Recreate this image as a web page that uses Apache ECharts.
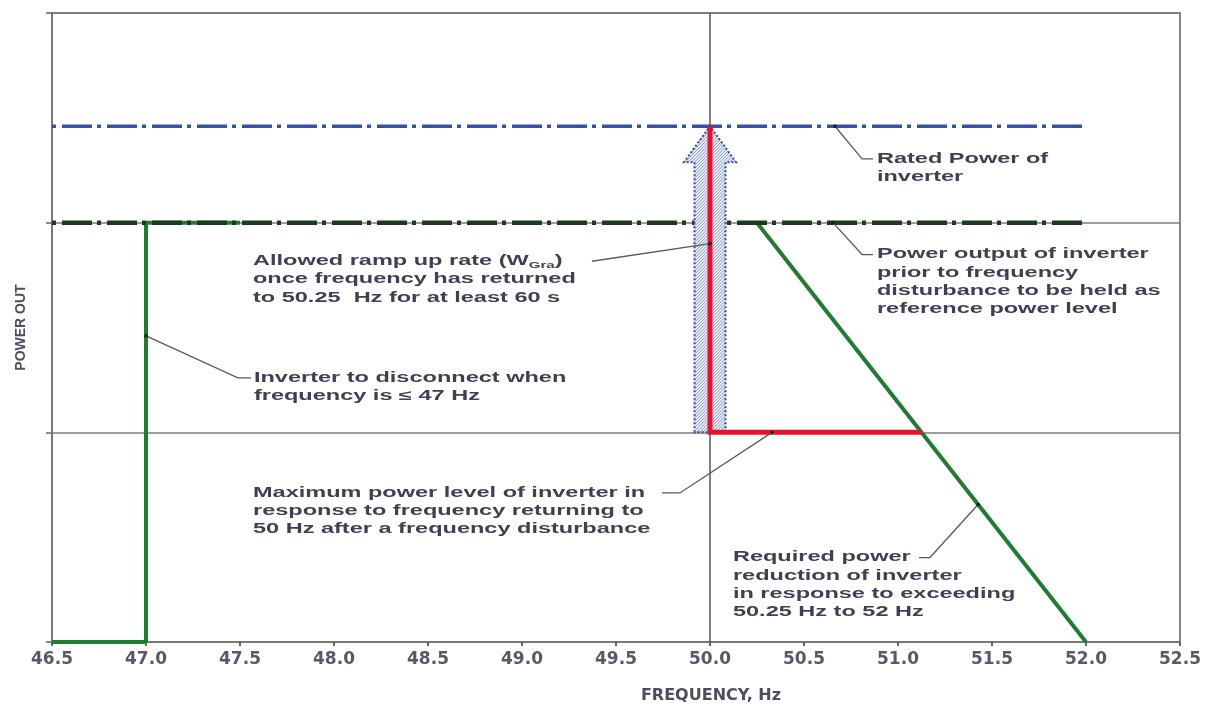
<!DOCTYPE html>
<html>
<head>
<meta charset="utf-8">
<script src="https://cdn.jsdelivr.net/npm/echarts@6/dist/echarts.min.js"></script>
<style>
html,body{margin:0;padding:0;background:#ffffff;}
#chart{width:1212px;height:709px;}
</style>
</head>
<body>
<div id="chart"></div>
<script>
// ---------- data ----------
const xTickLabels = ['46.5','47.0','47.5','48.0','48.5','49.0','49.5','50.0','50.5','51.0','51.5','52.0','52.5'];
const disconnectCurve = [[46.5, 0], [47.0, 0], [47.0, 1.0], [47.5, 1.0]];
const reductionCurve = [[50.25, 1.0], [52.0, 0]];
const ratedPower = [[46.5, 1.23], [52.0, 1.23]];
const referencePower = [[46.5, 1.0], [52.0, 1.0]];
const maxPowerPath = [[50.0, 1.23], [50.0, 0.5], [51.125, 0.5]];
const rampArrow = [[50.0, 0.5, 1.23]]; // x, from, to
const nominalFrequency = 50.0;

// annotations: anchor on curve, elbow, end of leader, text origin (all in data units)
const notes = [
  { lines: ['Rated Power of', 'inverter'],
    anchor: [50.665, 1.23], elbow: [50.809, 1.152], end: [50.867, 1.152], text: [50.888, 1.152] },
  { lines: ['Power output of inverter', 'prior to frequency', 'disturbance to be held as', 'reference power level'],
    anchor: [50.654, 1.0], elbow: [50.809, 0.924], end: [50.867, 0.924], text: [50.888, 0.924] },
  { lines: ['Allowed ramp up rate (W{sub|Gra})', 'once frequency has returned', 'to 50.25  Hz for at least 60 s'],
    anchor: [50.0, 0.950], elbow: [49.372, 0.908], end: [49.372, 0.908], text: [47.569, 0.908] },
  { lines: ['Inverter to disconnect when', 'frequency is \u2264 47 Hz'],
    anchor: [47.0, 0.730], elbow: [47.489, 0.630], end: [47.559, 0.630], text: [47.574, 0.630] },
  { lines: ['Maximum power level of inverter in', 'response to frequency returning to', '50 Hz after a frequency disturbance'],
    anchor: [50.330, 0.5], elbow: [49.840, 0.3555], end: [49.745, 0.3555], text: [47.569, 0.3555] },
  { lines: ['Required power', 'reduction of inverter', 'in response to exceeding', '50.25 Hz to 52 Hz'],
    anchor: [51.426, 0.328], elbow: [51.170, 0.2014], end: [51.112, 0.2014], text: [50.122, 0.2014] }
];

// ---------- helpers ----------
function clipToConvex(p, q, poly) {
  let t0 = 0, t1 = 1;
  const d = [q[0] - p[0], q[1] - p[1]];
  let cx = 0, cy = 0;
  poly.forEach(v => { cx += v[0]; cy += v[1]; });
  cx /= poly.length; cy /= poly.length;
  for (let i = 0; i < poly.length; i++) {
    const a = poly[i], b = poly[(i + 1) % poly.length];
    let n = [-(b[1] - a[1]), b[0] - a[0]];
    if (n[0] * (cx - a[0]) + n[1] * (cy - a[1]) < 0) n = [-n[0], -n[1]];
    const num = n[0] * (p[0] - a[0]) + n[1] * (p[1] - a[1]);
    const den = n[0] * d[0] + n[1] * d[1];
    if (Math.abs(den) < 1e-9) { if (num < 0) return null; continue; }
    const t = -num / den;
    if (den > 0) t0 = Math.max(t0, t); else t1 = Math.min(t1, t);
    if (t0 > t1) return null;
  }
  return [[p[0] + d[0] * t0, p[1] + d[1] * t0], [p[0] + d[0] * t1, p[1] + d[1] * t1]];
}

const TEXT_COLOR = '#404055';
const TEXT_FONT = 'bold 14px "Liberation Sans", Arial, sans-serif';
const TEXT_SCALE = 1.68;
const LINE_GAP = 18.3;

const chart = echarts.init(document.getElementById('chart'), null, { renderer: 'canvas' });

const dashDot = [4, 6, 30, 5];

const option = {
  animation: false,
  backgroundColor: '#ffffff',
  grid: { left: 52, right: 32, top: 13, bottom: 64, show: true, borderColor: '#858585', borderWidth: 2, containLabel: false },
  xAxis: {
    type: 'value', min: 46.5, max: 52.5, interval: 0.5,
    name: 'FREQUENCY, Hz', nameLocation: 'middle', nameGap: 46,
    nameTextStyle: { fontFamily: 'DejaVu Sans', fontWeight: 'bold', fontSize: 16, color: '#4d4d60', padding: [0, 0, 0, 190] },
    axisLine: { show: true, lineStyle: { color: '#777777', width: 2 } },
    axisTick: { show: true, length: 4, lineStyle: { color: '#666666', width: 2 } },
    axisLabel: {
      margin: 9, fontFamily: 'DejaVu Sans', fontWeight: 'bold', fontSize: 17, color: '#58586a',
      formatter: (v) => { const i = Math.round((v - 46.5) / 0.5); return xTickLabels[i] || ''; }
    },
    splitLine: { show: false }
  },
  yAxis: {
    type: 'value', min: 0, max: 1.5, interval: 0.5,
    name: 'POWER OUT', nameLocation: 'middle', nameGap: 24, nameRotate: 90,
    nameTextStyle: { fontFamily: 'Liberation Sans', fontWeight: 'bold', fontSize: 14, color: '#4d4d60' },
    axisLine: { show: true, lineStyle: { color: '#777777', width: 2 } },
    axisTick: { show: true, length: 6, lineStyle: { color: '#666666', width: 1.5 } },
    axisLabel: { show: false },
    splitLine: { show: true, lineStyle: { color: '#7d7d7d', width: 1.5 } }
  },
  series: [
    {
      name: 'nominal', type: 'line', data: [], z: 1,
      markLine: {
        silent: true, symbol: 'none', label: { show: false },
        lineStyle: { color: '#555555', width: 1.5, type: 'solid' },
        data: [{ xAxis: nominalFrequency }]
      }
    },
    {
      name: 'disconnect', type: 'line', data: disconnectCurve, showSymbol: false, z: 2,
      lineStyle: { color: '#1f7d32', width: 4 }
    },
    {
      name: 'reduction', type: 'line', data: reductionCurve, showSymbol: false, z: 2,
      lineStyle: { color: '#1f7d32', width: 4 }
    },
    {
      name: 'reference', type: 'line', data: referencePower, showSymbol: false, z: 3,
      lineStyle: { color: '#1d3a1f', width: 4.5, type: dashDot }
    },
    {
      name: 'rated', type: 'line', data: ratedPower, showSymbol: false, z: 3,
      lineStyle: { color: '#3552a8', width: 3.5, type: dashDot }
    },
    {
      name: 'arrow', type: 'custom', data: rampArrow, z: 4, clip: false,
      renderItem: function (params, api) {
        const base = api.coord([api.value(0), api.value(1)]);
        const tip = api.coord([api.value(0), api.value(2)]);
        const hw = 15.5, hh = 26, hl = 36;
        const cx = tip[0], yb = base[1], yt = tip[1], yh = yt + hl;
        const outline = [[cx - hw, yb], [cx - hw, yh], [cx - hh, yh], [cx, yt], [cx + hh, yh], [cx + hw, yh], [cx + hw, yb]];
        const rect = [[cx - hw, yb], [cx - hw, yh], [cx + hw, yh], [cx + hw, yb]];
        const tri = [[cx - hh, yh], [cx, yt], [cx + hh, yh]];
        const children = [{ type: 'polygon', shape: { points: outline }, style: { fill: '#eef1fa', stroke: null } }];
        const X0 = cx - hh - 4, X1 = cx + hh + 4;
        const sMin = X0 + yt - 4, sMax = X1 + yb + 4;
        for (let s = sMin; s <= sMax; s += 3.2) {
          const p = [X0, s - X0], q = [X1, s - X1];
          [rect, tri].forEach(poly => {
            const seg = clipToConvex(p, q, poly);
            if (seg) children.push({ type: 'line', shape: { x1: seg[0][0], y1: seg[0][1], x2: seg[1][0], y2: seg[1][1] }, style: { stroke: '#8193cc', lineWidth: 1 } });
          });
        }
        children.push({ type: 'polygon', shape: { points: outline }, style: { fill: null, stroke: '#2f4aa3', lineWidth: 2, lineDash: [2, 2] } });
        return { type: 'group', children: children };
      }
    },
    {
      name: 'maxPower', type: 'line', data: maxPowerPath, showSymbol: false, z: 5,
      lineStyle: { color: '#e8102a', width: 5, join: 'miter' }
    },
    {
      name: 'notes', type: 'custom', z: 6, clip: false,
      data: notes.map((n, i) => [n.anchor[0], n.anchor[1], i]),
      renderItem: function (params, api) {
        const n = notes[params.dataIndex];
        const a = api.coord(n.anchor), e = api.coord(n.elbow), f = api.coord(n.end), t = api.coord(n.text);
        const children = [
          { type: 'polyline', shape: { points: [a, e, f] }, style: { stroke: '#5a5a5a', lineWidth: 1.3, fill: null } },
          { type: 'circle', shape: { cx: a[0], cy: a[1], r: 1.8 }, style: { fill: '#1a1a1a' } }
        ];
        n.lines.forEach((s, i) => {
          children.push({
            type: 'text', x: t[0], y: t[1] + i * LINE_GAP, scaleX: TEXT_SCALE,
            style: {
              text: s, font: TEXT_FONT, fill: TEXT_COLOR, align: 'left', verticalAlign: 'middle', lineHeight: 18,
              rich: { sub: { fontSize: 9, fontWeight: 'bold', fontFamily: 'Liberation Sans', fill: TEXT_COLOR, verticalAlign: 'bottom', lineHeight: 18 } }
            }
          });
        });
        return { type: 'group', children: children };
      }
    }
  ]
};
chart.setOption(option);
</script>
</body>
</html>
